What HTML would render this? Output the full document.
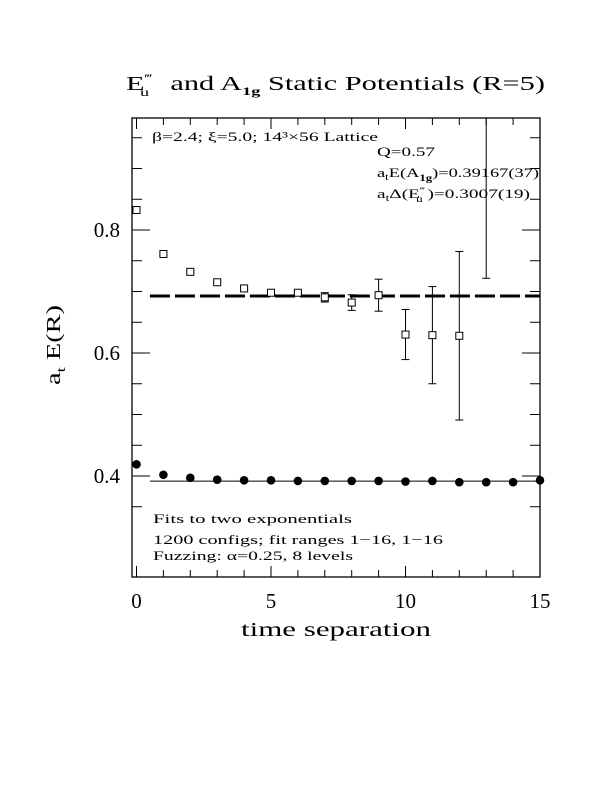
<!DOCTYPE html>
<html><head><meta charset="utf-8"><style>
html,body{margin:0;padding:0;background:#fff;}
svg{display:block;font-family:"Liberation Serif",serif;}
</style></head><body>
<svg id="chart" width="612" height="792" viewBox="0 0 612 792" xmlns="http://www.w3.org/2000/svg">
<text x="126" y="90" font-size="20" textLength="419" lengthAdjust="spacingAndGlyphs">E<tspan font-size="12" dy="-8">‴</tspan><tspan font-size="12" dx="-8" dy="14">u</tspan><tspan dy="-6" dx="14">and A</tspan><tspan font-size="12" dy="5" font-weight="bold">1g</tspan><tspan dy="-5"> Static Potentials (R=5)</tspan></text>
<text transform="translate(60,345) rotate(-90)" text-anchor="middle" font-size="20" textLength="80" lengthAdjust="spacingAndGlyphs">a<tspan font-size="13" dy="5">t</tspan><tspan dy="-5"> E(R)</tspan></text>
<text x="241" y="636" font-size="20" textLength="190" lengthAdjust="spacingAndGlyphs">time separation</text>
<g id="axes"></g>
<g id="marks"></g>
<g font-size="13">
<text x="152" y="141" textLength="226" lengthAdjust="spacingAndGlyphs">β=2.4; ξ=5.0; 14³×56 Lattice</text>
<text x="377" y="156" textLength="58" lengthAdjust="spacingAndGlyphs">Q=0.57</text>
<text x="377" y="177" textLength="162" lengthAdjust="spacingAndGlyphs">a<tspan font-size="9" dy="3">t</tspan><tspan dy="-3">E(A</tspan><tspan font-size="9" dy="4" font-weight="bold">1g</tspan><tspan dy="-4">)=0.39167(37)</tspan></text>
<text x="377" y="198" textLength="153" lengthAdjust="spacingAndGlyphs">a<tspan font-size="9" dy="3">t</tspan><tspan dy="-3">Δ(E</tspan><tspan font-size="8" dy="-5">‴</tspan><tspan font-size="9" dx="-6" dy="9">u</tspan><tspan dy="-4"> )=0.3007(19)</tspan></text>
<text x="153" y="523" textLength="199" lengthAdjust="spacingAndGlyphs">Fits to two exponentials</text>
<text x="153" y="544" textLength="290" lengthAdjust="spacingAndGlyphs">1200 configs; fit ranges 1−16, 1−16</text>
<text x="153" y="560" textLength="200" lengthAdjust="spacingAndGlyphs">Fuzzing: α=0.25, 8 levels</text>
</g>
</svg>
<script>
const times = [0,1,2,3,4,5,6,7,8,9,10,11,12,13,14,15];
const a1gValues = [0.419,0.402,0.397,0.394,0.393,0.393,0.392,0.392,0.392,0.392,0.391,0.392,0.390,0.390,0.390,0.393];
const euTimes = [0,1,2,3,4,5,6,7,8,9,10,11,12,13];
const euValues = [0.8325,0.761,0.732,0.715,0.705,0.698,0.698,0.6905,0.682,0.694,0.630,0.629,0.628,1.0];
const euErrors = [0.002,0.002,0.002,0.002,0.002,0.002,0.002,0.0076,0.0127,0.026,0.0407,0.079,0.137,0.2785];
const a1gFit = 0.3917;
const euFit = 0.6927;
const fitRange = [0.5,15];
const xTickLabels = [0,5,10,15];
const yTickLabels = [0.4,0.6,0.8];

const X0=132,X1=540,Y0=118,Y1=577;
const xs = t => 136.5 + 26.9*t;
const ys = v => 476 - (v-0.4)*615;
const NS="http://www.w3.org/2000/svg";
function mk(tag, attrs, parent){const e=document.createElementNS(NS,tag);for(const k in attrs)e.setAttribute(k,attrs[k]);parent.appendChild(e);return e;}
const axes=document.getElementById('axes'), marks=document.getElementById('marks');

const frame=mk('rect',{x:X0,y:Y0,width:X1-X0,height:Y1-Y0,fill:'none',stroke:'#000','stroke-width':1.3},axes);



for(let t=0;t<=15;t++){
  const L = t%5===0?11:7, x=xs(t);
  const a=mk('line',{x1:x,x2:x,y1:Y1,y2:Y1-L,stroke:'#000'},axes);
  
  
  const b=mk('line',{x1:x,x2:x,y1:Y0,y2:Y0+L,stroke:'#000'},axes);
  
  
}
xTickLabels.forEach(t=>{
  const e=mk('text',{x:xs(t),y:608,'text-anchor':'middle','font-size':21},axes);
  e.textContent=String(t);
  
  
});
for(let i=7;i<=19;i++){
  const v=i*0.05, y=ys(v), major=(i===8||i===12||i===16), L=major?18:10;
  const a=mk('line',{x1:X0,x2:X0+L,y1:y,y2:y,stroke:'#000'},axes);
  
  
  const b=mk('line',{x1:X1,x2:X1-L,y1:y,y2:y,stroke:'#000'},axes);
  
  
}
yTickLabels.forEach(v=>{
  const e=mk('text',{x:120,y:ys(v)+7,'text-anchor':'end','font-size':21},axes);
  e.textContent=v.toFixed(1);
  
  
});

const fl=mk('line',{x1:xs(fitRange[0]),x2:xs(fitRange[1]),y1:ys(a1gFit),y2:ys(a1gFit),stroke:'#000','stroke-width':1},marks);


const dl=mk('line',{x1:xs(fitRange[0]),x2:xs(fitRange[1]),y1:ys(euFit),y2:ys(euFit),stroke:'#000','stroke-width':3,'stroke-dasharray':'20 5'},marks);



euTimes.forEach((t,i)=>{
  const x=xs(t), v=euValues[i], e=euErrors[i];
  const yt=Math.max(Y0,ys(v+e)), yb=Math.min(Y1,ys(v-e));
  const bar=mk('line',{x1:x,x2:x,y1:yt,y2:yb,stroke:'#000'},marks);
  
  
  if(ys(v+e)>Y0){const c=mk('line',{x1:x-4,x2:x+4,y1:yt,y2:yt,stroke:'#000'},marks);
    
    }
  if(ys(v-e)<Y1){const c=mk('line',{x1:x-4,x2:x+4,y1:yb,y2:yb,stroke:'#000'},marks);
    
    }
  if(ys(v)>Y0){const s=mk('rect',{x:x-3.5,y:ys(v)-3.5,width:7,height:7,fill:'#fff',stroke:'#000'},marks);
    
    }
});
times.forEach((t,i)=>{
  const c=mk('circle',{cx:xs(t),cy:ys(a1gValues[i]),r:4.3,fill:'#000'},marks);
  
  
});
</script>
</body></html>
